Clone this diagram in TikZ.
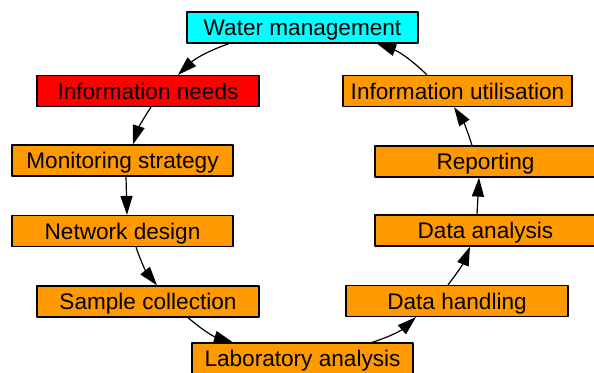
\documentclass[tikz,border=0pt]{standalone}
\usepackage{fontspec}
\setmainfont{Liberation Sans}
\usetikzlibrary{arrows.meta}
\definecolor{boxorange}{RGB}{255,153,0}
\definecolor{boxcyan}{RGB}{0,255,255}
\definecolor{boxred}{RGB}{255,0,0}
\begin{document}
\begin{tikzpicture}[x=0.5pt,y=-0.5pt,>={Triangle[length=9.5pt,width=6pt]},line join=round,
	box/.style={draw,line width=0.6pt,fill=boxorange,minimum width=110.5pt,minimum height=15.5pt,inner sep=0pt,text height=8.1pt,text depth=0pt,font=\fontsize{11.3}{13}\selectfont},
	flow/.style={->,line width=0.6pt}]
	\def\W{594} \def\H{373}
	\useasboundingbox (0,0) rectangle (\W,\H);
	% left side
	\node[box,fill=boxcyan,minimum width=115.5pt] (wm) at (302.5,27.5) {Water management};
	\node[box,fill=boxred,minimum width=111pt] (needs) at (148,91) {Information needs};
	\node[box] (strat) at (122.5,160.5) {Monitoring strategy};
	\node[box] (net) at (122.5,231) {Network design};
	\node[box,minimum width=111pt] (sample) at (148,301.5) {Sample collection};
	\node[box] (lab) at (302.5,358.5) {Laboratory analysis};
	% right side
	\node[box,minimum width=111pt] (handl) at (457,301) {Data handling};
	\node[box] (danal) at (485.5,230.5) {Data analysis};
	\node[box] (report) at (485.5,161.5) {Reporting};
	\node[box,minimum width=114.5pt] (util) at (457.5,91) {Information utilisation};
	% cycle
	\draw[flow] ([xshift=-36.75pt]wm.south) to[bend right=12] ([xshift=15pt]needs.north);
	\draw[flow] ([xshift=1.5pt]needs.south) to[bend right=8] ([xshift=5.25pt]strat.north);
	\draw[flow] ([xshift=1.75pt]strat.south) to ([xshift=2.25pt]net.north);
	\draw[flow] ([xshift=6.75pt]net.south) to[bend right=10] ([xshift=4.5pt]sample.north);
	\draw[flow] ([xshift=20pt]sample.south) to[bend right=12] ([xshift=-34.75pt]lab.north);
	\draw[flow] ([xshift=34.75pt]lab.north) to[bend right=12] ([xshift=-20.5pt]handl.south);
	\draw[flow] ([xshift=-4.5pt]handl.north) to[bend right=8] ([xshift=-7.75pt]danal.south);
	\draw[flow] ([xshift=-4.25pt]danal.north) to ([xshift=-3.25pt]report.south);
	\draw[flow] ([xshift=-6.75pt]report.north) to[bend right=8] ([xshift=-1.75pt]util.south);
	\draw[flow] ([xshift=-15.25pt]util.north) to[bend right=12] ([xshift=37.25pt]wm.south);
\end{tikzpicture}
\end{document}
